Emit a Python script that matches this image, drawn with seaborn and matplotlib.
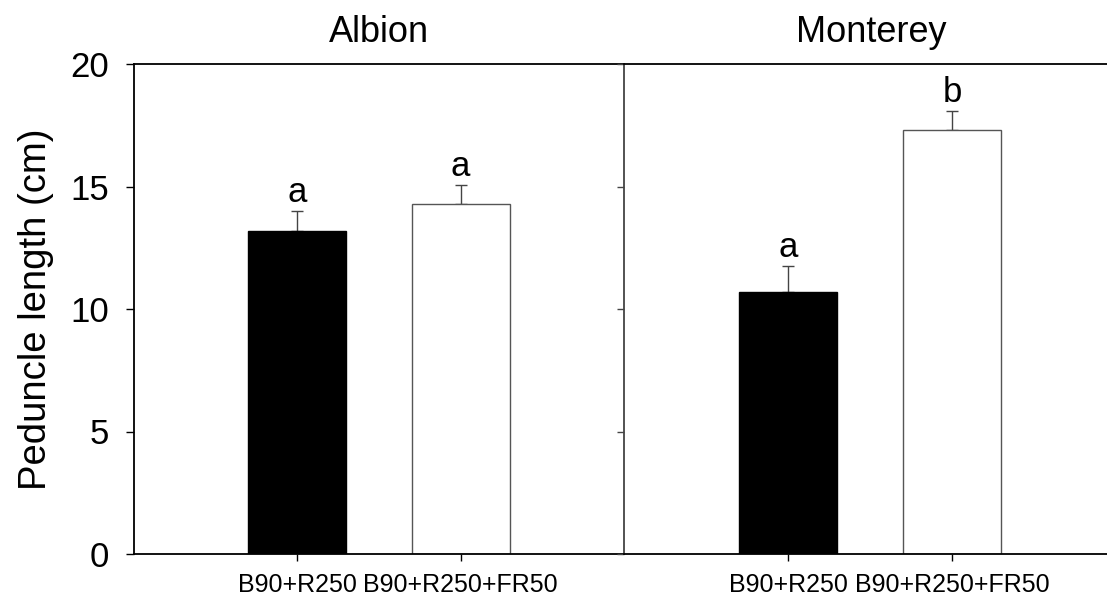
import matplotlib
matplotlib.use("Agg")
import matplotlib.pyplot as plt
import seaborn as sns
import pandas as pd

sns.set_theme(style="white")
plt.rcParams["font.family"] = ["Liberation Sans", "DejaVu Sans"]
plt.rcParams["text.color"] = "black"
plt.rcParams["axes.labelcolor"] = "black"

cultivars = ["Albion", "Monterey"]
treatments = ["B90+R250", "B90+R250+FR50"]
albion_means = [13.2, 14.3]
albion_se = [0.8, 0.75]
monterey_means = [10.7, 17.3]
monterey_se = [1.05, 0.8]
albion_letters = ["a", "a"]
monterey_letters = ["a", "b"]

bar_colors = ["black", "white"]
edge_colors = ["black", "#555555"]

fig = plt.figure(figsize=(11.07, 6.16), dpi=100)
ax_l = fig.add_axes([134 / 1107, 62 / 616, 490 / 1107, 490 / 616])
ax_r = fig.add_axes([624 / 1107, 62 / 616, 483 / 1107, 490 / 616])


def draw_panel(ax, title, means, errs, letters, xmax, title_x=0.5):
    df = pd.DataFrame({"treatment": treatments, "length": means})
    sns.barplot(data=df, x="treatment", y="length", hue="treatment",
                palette=bar_colors, width=0.6, legend=False, ax=ax,
                linewidth=1.0, zorder=2)
    for patch, ec in zip(ax.patches, edge_colors):
        patch.set_edgecolor(ec)
    xs = list(range(len(means)))
    ax.errorbar(xs, means, yerr=[[0] * len(errs), errs], fmt="none",
                ecolor="#444444", elinewidth=1.0, capsize=4.5, capthick=1.0,
                zorder=1)
    for x, m, e, t in zip(xs, means, errs, letters):
        ax.annotate(t, (x, m + e), xytext=(0, 6.5), textcoords="offset points",
                    ha="center", va="baseline", fontsize=25, color="black")
    ax.set_xlim(-1, xmax)
    ax.set_ylim(0, 20)
    ax.set_title(title, fontsize=26, pad=16, color="black", x=title_x)
    ax.set_xlabel("")
    ax.set_ylabel("")
    ax.tick_params(axis="x", direction="out", length=5, width=1, pad=9,
                   labelsize=18, bottom=True, colors="black")
    for s in ax.spines.values():
        s.set_color("black")
        s.set_linewidth(1.3)


draw_panel(ax_l, cultivars[0], albion_means, albion_se, albion_letters, 2.0)
draw_panel(ax_r, cultivars[1], monterey_means, monterey_se, monterey_letters,
           1.945, title_x=0.512)

ax_l.set_yticks([0, 5, 10, 15, 20])
ax_l.tick_params(axis="y", direction="out", length=6, width=1, pad=12,
                 labelsize=25, left=True, colors="black")
ax_l.set_ylabel("Peduncle length (cm)", fontsize=27.5, labelpad=12)
ax_l.spines["right"].set_visible(False)

ax_r.set_yticks([0, 5, 10, 15, 20])
ax_r.tick_params(axis="y", direction="out", length=5, width=1,
                 left=True, labelleft=False, color="#444444")
ax_r.spines["left"].set_color("#444444")
ax_r.spines["right"].set_visible(False)

fig.savefig("out.png", dpi=100, facecolor="white")
